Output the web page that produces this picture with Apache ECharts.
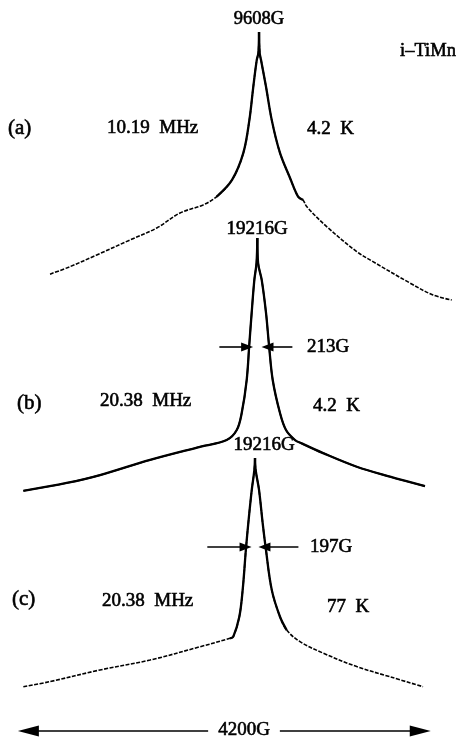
<!DOCTYPE html>
<html>
<head>
<meta charset="utf-8">
<script src="https://cdn.jsdelivr.net/npm/echarts@6/dist/echarts.min.js"></script>
<style>
html,body{margin:0;padding:0;background:#fff;}
#chart{width:464px;height:738px;}
</style>
</head>
<body>
<div id="chart"></div>
<script>
// ---- Data (field in gauss, intensity normalised to peak = 100) ----
const fieldA = [7424, 7633, 7912, 8260, 8539, 8782, 9023, 9166, 9326, 9444, 9507, 9548, 9584, 9601, 9608, 9615, 9629, 9681, 9741, 9827, 9932, 10016, 10068, 10106, 10315, 10629, 10799, 11186, 11426, 11622];
const intensityA = [12.9, 15.6, 19.8, 25.2, 29.5, 34.9, 37.8, 40.8, 46.8, 56.5, 68.3, 80.3, 89.9, 92.4, 100, 92.4, 89.9, 80.3, 68.3, 56.5, 47.5, 40.8, 39.6, 37.2, 30.0, 21.0, 17.4, 9.7, 5.4, 3.6];

const fieldB = [16771, 17224, 17572, 18095, 18617, 18896, 19001, 19053, 19105, 19132, 19157, 19185, 19208, 19216, 19224, 19262, 19307, 19338, 19377, 19453, 19516, 19610, 19680, 19903, 20255, 20603, 20968];
const intensityB = [3.5, 6.5, 9.5, 15.3, 20.3, 22.9, 26.7, 33.2, 45.8, 59.2, 71.4, 84.0, 90.5, 100, 90.5, 84.0, 71.4, 59.2, 45.8, 33.2, 26.7, 22.9, 21.6, 17.9, 12.7, 8.9, 5.3];

const fieldC = [16795, 17074, 17596, 18119, 18641, 18955, 18989, 19052, 19087, 19122, 19146, 19182, 19209, 19216, 19223, 19258, 19296, 19328, 19391, 19477, 19547, 19686, 19927, 20279, 20627, 20972];
const intensityC = [5.5, 7.6, 12.4, 16.5, 22.0, 25.5, 26.2, 34.4, 45.5, 62.8, 73.1, 86.8, 95.0, 100, 95.0, 86.8, 73.1, 62.8, 45.5, 34.4, 28.9, 24.1, 19.4, 13.8, 9.6, 5.5];

const peakFields = [9608, 19216, 19216];
const peakLabels = ['9608G', '19216G', '19216G'];
const fwhmValues = [null, 213, 197];
const fwhmLabels = ['', '213G', '197G'];
const panelLabels = ['(a)', '(b)', '(c)'];
const freqLabels = ['10.19  MHz', '20.38  MHz', '20.38  MHz'];
const tempLabels = ['4.2  K', '4.2  K', '77  K'];
const sampleLabel = 'i\u2013TiMn';
const spanValue = 4200;
const spanLabel = '4200G';

// ---- Build ----
const FONT = "'Liberation Serif','Times New Roman',serif";
const fields = [fieldA, fieldB, fieldC];
const ints = [intensityA, intensityB, intensityC];
const coreMin = [39, 0, 25];
const GAUSS_PER_PX = 10.45;

const grids = [
  {left: 0, right: 0, top: 32, height: 278},
  {left: 0, right: 0, top: 238, height: 262},
  {left: 0, right: 0, top: 458, height: 278.3}
];
const xRanges = [[6901, 11750], [16527, 21376], [16551, 21400]];
const yRanges = [[0, 100], [0, 100], [-15, 100]];

const xAxes = xRanges.map((r, i) => ({type: 'value', gridIndex: i, min: r[0], max: r[1], show: false}));
const yAxes = yRanges.map((r, i) => ({type: 'value', gridIndex: i, min: r[0], max: r[1], show: false}));

const series = [];
fields.forEach((f, i) => {
  const pts = f.map((x, k) => [x, ints[i][k]]);
  const peakIdx = ints[i].indexOf(100);
  const dashedTail = i !== 1;
  // left half and right half drawn separately so the sharp peak is kept
  [pts.slice(0, peakIdx + 1), pts.slice(peakIdx)].forEach(half => {
    series.push({
      type: 'line', xAxisIndex: i, yAxisIndex: i, data: half, showSymbol: false,
      smooth: 0.35, silent: true, clip: false,
      lineStyle: {color: '#000', width: 1.6, type: dashedTail ? [4, 1.5] : 'solid'}
    });
    const core = half.filter(p => p[1] >= coreMin[i]);
    series.push({
      type: 'line', xAxisIndex: i, yAxisIndex: i, data: core, showSymbol: false,
      smooth: 0.35, silent: true, clip: false,
      lineStyle: {color: '#000', width: 2.3}
    });
  });
});

// FWHM arrows (b) and (c)
const arrowY = [null, 58.4, 63.2];
const arrowLen = [null, [290, 260], [400, 355]];
[1, 2].forEach(i => {
  const c = peakFields[i], h = fwhmValues[i] / 2, y = arrowY[i];
  series.push({
    type: 'line', xAxisIndex: i, yAxisIndex: i, data: [], silent: true,
    markLine: {
      silent: true, symbol: ['none', 'triangle'], symbolSize: [9, 12],
      label: {show: false}, lineStyle: {color: '#000', width: 1.6, type: 'solid'},
      data: [
        [{coord: [c - h - arrowLen[i][0], y]}, {coord: [c - h, y]}],
        [{coord: [c + h + arrowLen[i][1], y]}, {coord: [c + h, y]}]
      ]
    }
  });
});

// 4200G span arrow in grid (c)
const spanStart = fieldC[0];
const inset = 5 * GAUSS_PER_PX;
series.push({
  type: 'line', xAxisIndex: 2, yAxisIndex: 2, data: [], silent: true,
  markLine: {
    silent: true, symbol: ['triangle', 'triangle'], symbolSize: [11, 21],
    label: {show: false}, lineStyle: {color: '#000', width: 1.6, type: 'solid'},
    data: [[{coord: [spanStart + inset, -12.8]}, {coord: [spanStart + spanValue - inset, -12.8]}]]
  }
});

function txt(text, x, y, size, align, extra) {
  return Object.assign({
    type: 'text', x: x, y: y, z: 10,
    style: {text: text, font: (size) + 'px ' + FONT, fill: '#000', stroke: '#000', lineWidth: 0.6,
            textAlign: align || 'left', textVerticalAlign: 'middle'}
  }, extra || {});
}

const graphic = [
  txt(peakLabels[0], 259, 19, 18.5, 'center'),
  txt(sampleLabel, 400, 51, 18.5, 'left'),
  txt(panelLabels[0], 8, 128, 21, 'left'),
  txt(freqLabels[0], 107, 128, 19, 'left'),
  txt(tempLabels[0], 307, 129, 19, 'left'),

  txt(peakLabels[1], 257, 229, 19, 'center'),
  txt(fwhmLabels[1], 307, 347, 19, 'left'),
  txt(panelLabels[1], 17, 403, 21, 'left'),
  txt(freqLabels[1], 100, 401, 19, 'left'),
  txt(tempLabels[1], 313, 406, 19, 'left'),

  txt(peakLabels[2], 264, 445, 19, 'center'),
  txt(fwhmLabels[2], 310, 547, 19, 'left'),
  txt(panelLabels[2], 12, 599, 21, 'left'),
  txt(freqLabels[2], 102, 601, 19, 'left'),
  txt(tempLabels[2], 327, 607, 19, 'left'),

  {type: 'text', x: 244, y: 730, z: 20,
   style: {text: spanLabel, font: '19px ' + FONT, fill: '#000', stroke: '#000', lineWidth: 0.6,
           textAlign: 'center', textVerticalAlign: 'middle', backgroundColor: '#fff', padding: [0, 10]}}
];

const chart = echarts.init(document.getElementById('chart'), null, {renderer: 'canvas'});
chart.setOption({
  animation: false,
  backgroundColor: '#fff',
  grid: grids,
  xAxis: xAxes,
  yAxis: yAxes,
  series: series,
  graphic: graphic
});
</script>
</body>
</html>
